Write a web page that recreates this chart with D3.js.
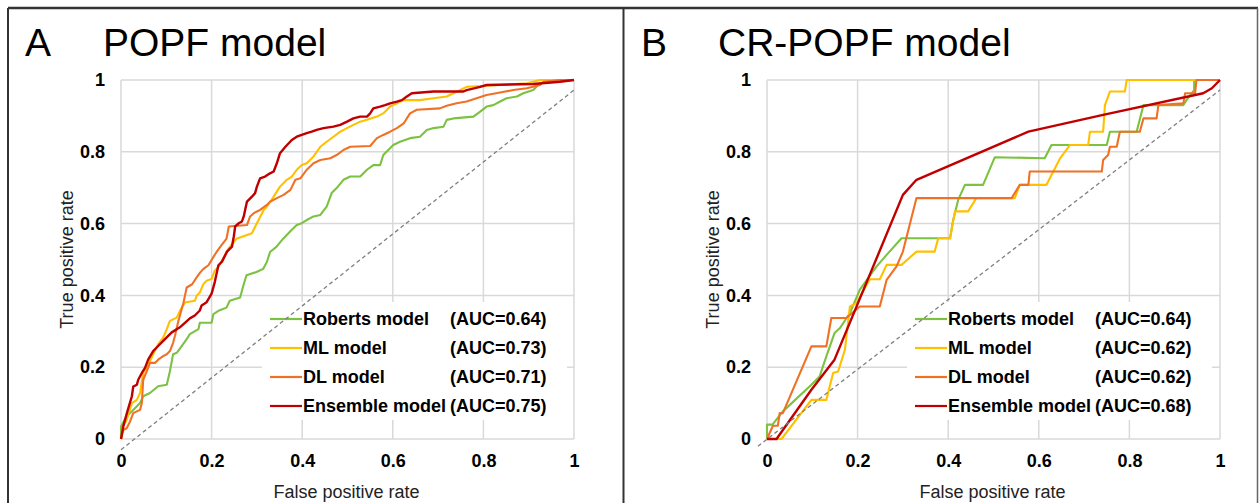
<!DOCTYPE html>
<html>
<head>
<meta charset="utf-8">
<script src="https://cdn.jsdelivr.net/npm/d3@7"></script>
<style>
  body { margin: 0; background: #fff; }
  svg { display: block; font-family: "Liberation Sans", Arial, sans-serif; }
</style>
</head>
<body>
<svg id="chart" width="1259" height="503"></svg>
<script>
// ---- data ----
var ticks = [0, 0.2, 0.4, 0.6, 0.8, 1];
var tickLabels = ["0", "0.2", "0.4", "0.6", "0.8", "1"];
var seriesNames = ["Roberts model", "ML model", "DL model", "Ensemble model"];
var seriesColors = ["#7cc242", "#ffc000", "#f07125", "#c00000"];
var aucA = ["(AUC=0.64)", "(AUC=0.73)", "(AUC=0.71)", "(AUC=0.75)"];
var aucB = ["(AUC=0.64)", "(AUC=0.62)", "(AUC=0.62)", "(AUC=0.68)"];

var robertsA = [[0,0],[0,0.035],[0.0125,0.063],[0.027,0.081],[0.042,0.100],[0.049,0.119],[0.064,0.128],[0.082,0.147],[0.101,0.151],[0.108,0.189],[0.115,0.236],[0.123,0.240],[0.134,0.259],[0.145,0.278],[0.152,0.292],[0.171,0.306],[0.174,0.324],[0.200,0.324],[0.204,0.348],[0.215,0.357],[0.233,0.366],[0.240,0.385],[0.263,0.394],[0.270,0.427],[0.277,0.456],[0.299,0.465],[0.314,0.474],[0.322,0.493],[0.329,0.521],[0.343,0.535],[0.358,0.558],[0.377,0.583],[0.388,0.596],[0.399,0.601],[0.410,0.610],[0.425,0.620],[0.440,0.624],[0.454,0.647],[0.465,0.685],[0.476,0.699],[0.491,0.722],[0.506,0.731],[0.528,0.731],[0.543,0.750],[0.557,0.763],[0.572,0.763],[0.579,0.791],[0.594,0.810],[0.601,0.819],[0.616,0.828],[0.638,0.838],[0.660,0.842],[0.675,0.861],[0.690,0.866],[0.712,0.870],[0.719,0.889],[0.734,0.893],[0.778,0.898],[0.793,0.912],[0.807,0.926],[0.822,0.930],[0.837,0.940],[0.851,0.949],[0.874,0.954],[0.888,0.963],[0.910,0.972],[0.925,0.991],[0.947,0.995],[1,1]];
var mlA = [[0,0],[0.005,0.035],[0.0125,0.053],[0.024,0.100],[0.035,0.109],[0.042,0.128],[0.049,0.184],[0.060,0.207],[0.071,0.236],[0.082,0.264],[0.093,0.282],[0.101,0.306],[0.108,0.329],[0.123,0.338],[0.130,0.357],[0.141,0.380],[0.163,0.385],[0.167,0.399],[0.174,0.408],[0.182,0.432],[0.189,0.441],[0.200,0.446],[0.207,0.469],[0.215,0.479],[0.229,0.511],[0.237,0.530],[0.255,0.558],[0.289,0.573],[0.300,0.601],[0.315,0.638],[0.322,0.647],[0.337,0.675],[0.351,0.703],[0.366,0.722],[0.377,0.731],[0.388,0.750],[0.399,0.763],[0.410,0.768],[0.425,0.787],[0.440,0.814],[0.454,0.828],[0.469,0.842],[0.484,0.856],[0.499,0.866],[0.513,0.875],[0.528,0.884],[0.543,0.889],[0.565,0.898],[0.579,0.907],[0.594,0.926],[0.609,0.935],[0.624,0.944],[0.660,0.944],[0.690,0.949],[0.719,0.954],[0.734,0.963],[0.749,0.972],[0.763,0.981],[0.837,0.986],[0.896,0.991],[0.925,1],[1,1]];
var dlA = [[0,0],[0.005,0.025],[0.0125,0.030],[0.020,0.049],[0.027,0.072],[0.042,0.081],[0.046,0.100],[0.049,0.165],[0.057,0.189],[0.064,0.212],[0.075,0.212],[0.082,0.221],[0.093,0.231],[0.101,0.236],[0.108,0.245],[0.115,0.268],[0.119,0.287],[0.126,0.325],[0.138,0.380],[0.145,0.422],[0.157,0.431],[0.167,0.450],[0.175,0.464],[0.182,0.474],[0.193,0.484],[0.204,0.507],[0.211,0.521],[0.219,0.535],[0.233,0.558],[0.238,0.592],[0.278,0.596],[0.285,0.620],[0.293,0.629],[0.307,0.638],[0.322,0.652],[0.329,0.661],[0.344,0.671],[0.359,0.680],[0.374,0.694],[0.385,0.722],[0.396,0.726],[0.410,0.750],[0.425,0.768],[0.440,0.777],[0.462,0.782],[0.476,0.791],[0.491,0.805],[0.506,0.814],[0.550,0.816],[0.565,0.838],[0.579,0.847],[0.594,0.856],[0.609,0.866],[0.624,0.879],[0.638,0.907],[0.653,0.917],[0.704,0.921],[0.719,0.928],[0.741,0.935],[0.763,0.940],[0.785,0.949],[0.807,0.958],[0.837,0.965],[0.866,0.972],[0.896,0.977],[0.925,0.986],[0.932,0.995],[0.969,1],[1,1]];
var ensA = [[0,0],[0.005,0.035],[0.013,0.072],[0.024,0.119],[0.027,0.146],[0.035,0.151],[0.038,0.165],[0.046,0.184],[0.053,0.198],[0.060,0.221],[0.071,0.245],[0.082,0.259],[0.097,0.278],[0.112,0.297],[0.130,0.311],[0.152,0.336],[0.163,0.344],[0.174,0.358],[0.178,0.372],[0.189,0.381],[0.200,0.405],[0.207,0.437],[0.215,0.484],[0.223,0.494],[0.234,0.522],[0.245,0.536],[0.249,0.564],[0.252,0.592],[0.260,0.601],[0.267,0.606],[0.271,0.620],[0.274,0.638],[0.278,0.661],[0.282,0.666],[0.289,0.675],[0.296,0.685],[0.300,0.703],[0.307,0.726],[0.318,0.731],[0.329,0.740],[0.337,0.745],[0.344,0.768],[0.351,0.796],[0.363,0.814],[0.377,0.833],[0.388,0.842],[0.399,0.847],[0.410,0.852],[0.421,0.856],[0.432,0.861],[0.447,0.866],[0.469,0.870],[0.484,0.875],[0.499,0.884],[0.513,0.893],[0.528,0.898],[0.543,0.898],[0.550,0.907],[0.557,0.921],[0.572,0.926],[0.583,0.930],[0.594,0.935],[0.609,0.940],[0.620,0.944],[0.631,0.954],[0.642,0.963],[0.690,0.968],[0.756,0.968],[0.763,0.972],[0.793,0.981],[0.807,0.986],[0.910,0.989],[0.969,0.995],[1,1]];

var robertsB = [[0,0],[0,0.040],[0.012,0.040],[0.035,0.077],[0.098,0.151],[0.116,0.174],[0.131,0.230],[0.149,0.295],[0.161,0.309],[0.183,0.351],[0.205,0.416],[0.242,0.481],[0.264,0.513],[0.297,0.559],[0.404,0.559],[0.411,0.610],[0.422,0.666],[0.437,0.708],[0.477,0.708],[0.503,0.785],[0.613,0.782],[0.628,0.819],[0.750,0.819],[0.757,0.856],[0.816,0.856],[0.831,0.930],[0.919,0.930],[0.926,0.944],[0.943,0.972],[0.943,1],[1,1]];
var mlB = [[0,0],[0.032,0],[0.098,0.109],[0.131,0.109],[0.146,0.184],[0.157,0.188],[0.172,0.249],[0.183,0.369],[0.197,0.378],[0.227,0.445],[0.249,0.445],[0.264,0.485],[0.297,0.485],[0.330,0.522],[0.370,0.522],[0.378,0.559],[0.404,0.559],[0.415,0.634],[0.444,0.634],[0.462,0.671],[0.547,0.671],[0.558,0.708],[0.617,0.708],[0.647,0.782],[0.669,0.819],[0.709,0.819],[0.713,0.856],[0.742,0.856],[0.746,0.930],[0.757,0.968],[0.790,0.968],[0.794,1],[1,1]];
var dlB = [[0,0],[0.013,0.037],[0.024,0.037],[0.028,0.072],[0.035,0.072],[0.098,0.258],[0.131,0.258],[0.142,0.337],[0.175,0.337],[0.205,0.369],[0.249,0.369],[0.264,0.443],[0.286,0.481],[0.300,0.522],[0.330,0.671],[0.540,0.671],[0.558,0.708],[0.577,0.708],[0.580,0.745],[0.739,0.745],[0.742,0.777],[0.753,0.791],[0.757,0.814],[0.772,0.814],[0.779,0.856],[0.823,0.856],[0.831,0.893],[0.860,0.893],[0.864,0.930],[0.919,0.935],[0.923,0.963],[0.945,0.963],[0.948,1],[1,1]];
var ensB = [[0,0],[0.021,0],[0.098,0.137],[0.149,0.221],[0.300,0.680],[0.330,0.722],[0.577,0.856],[0.742,0.903],[0.963,0.963],[0.982,0.977],[1,1]];

// reference diagonal (slightly offset, as in the source)
var diagA = [[0,-0.03],[1,0.972]];
var diagB = [[-0.02,-0.02],[1,0.972]];

var svg = d3.select("#chart");
var FONT_TICK = 18, FONT_LEG = 18, FONT_TITLE = 39, FONT_AXT = 18;

// frame lines
svg.append("line").attr("x1", 8).attr("y1", 8).attr("x2", 1258).attr("y2", 8)
    .attr("stroke", "#333").attr("stroke-width", 2.5);
svg.append("line").attr("x1", 8).attr("y1", 8).attr("x2", 8).attr("y2", 503)
    .attr("stroke", "#333").attr("stroke-width", 2);
svg.append("line").attr("x1", 623.5).attr("y1", 8).attr("x2", 623.5).attr("y2", 503)
    .attr("stroke", "#333").attr("stroke-width", 2);
svg.append("line").attr("x1", 1257.5).attr("y1", 8).attr("x2", 1257.5).attr("y2", 503)
    .attr("stroke", "#666").attr("stroke-width", 1.5);

function drawPanel(p) {
    var x = d3.scaleLinear().domain([0, 1]).range([p.left, p.left + 453]);
    var y = d3.scaleLinear().domain([0, 1]).range([439, 80]);
    var g = svg.append("g");

    // letter + title
    g.append("text").attr("x", p.letterX).attr("y", 56).attr("font-size", FONT_TITLE)
        .attr("fill", "#000").text(p.letter);
    g.append("text").attr("x", p.titleX).attr("y", 56).attr("font-size", FONT_TITLE)
        .attr("fill", "#000").text(p.title);

    // grid
    g.selectAll(".gx").data(ticks).enter().append("line")
        .attr("x1", function(d){return x(d);}).attr("x2", function(d){return x(d);})
        .attr("y1", y(0)).attr("y2", y(1))
        .attr("stroke", "#d9d9d9").attr("stroke-width", 1.5);
    g.selectAll(".gy").data(ticks).enter().append("line")
        .attr("x1", x(0)).attr("x2", x(1))
        .attr("y1", function(d){return y(d);}).attr("y2", function(d){return y(d);})
        .attr("stroke", "#d9d9d9").attr("stroke-width", 1.5);

    // axes (labels only)
    var ax = g.append("g").attr("transform", "translate(0," + y(0) + ")")
        .call(d3.axisBottom(x).tickValues(ticks).tickSize(0).tickPadding(15)
            .tickFormat(function(d, i){return tickLabels[i];}));
    var ay = g.append("g").attr("transform", "translate(" + x(0) + ",0)")
        .call(d3.axisLeft(y).tickValues(ticks).tickSize(0).tickPadding(16)
            .tickFormat(function(d, i){return tickLabels[i];}));
    [ax, ay].forEach(function(a){
        a.select(".domain").remove();
        a.selectAll("text").attr("font-size", FONT_TICK).attr("font-weight", "bold")
            .attr("fill", "#000").attr("font-family", null);
    });

    // axis titles
    g.append("text").attr("x", (x(0) + x(1)) / 2 - 1).attr("y", 498)
        .attr("text-anchor", "middle").attr("font-size", FONT_AXT).attr("fill", "#222")
        .text("False positive rate");
    g.append("text").attr("transform", "translate(" + (x(0) - 48) + "," + ((y(0) + y(1)) / 2) + ") rotate(-90)")
        .attr("text-anchor", "middle").attr("font-size", FONT_AXT).attr("fill", "#222")
        .text("True positive rate");

    // curves
    var line = d3.line().x(function(d){return x(d[0]);}).y(function(d){return y(d[1]);});
    p.series.forEach(function(s, i){
        g.append("path").datum(s).attr("d", line)
            .attr("fill", "none").attr("stroke", seriesColors[i])
            .attr("stroke-width", i == 3 ? 2.4 : 2.1)
            .attr("stroke-linejoin", "round");
    });

    // legend
    var lx = x(0) + p.legX;
    g.append("rect").attr("x", lx).attr("y", 302).attr("width", 305).attr("height", 118)
        .attr("fill", "#fff");
    seriesNames.forEach(function(name, i){
        var ry = 319 + i * 29;
        g.append("line").attr("x1", lx + 8).attr("x2", lx + 40).attr("y1", ry).attr("y2", ry)
            .attr("stroke", seriesColors[i]).attr("stroke-width", 2.2);
        g.append("text").attr("x", lx + 41).attr("y", ry).attr("dy", "0.35em")
            .attr("font-size", FONT_LEG).attr("font-weight", "bold").attr("fill", "#000").text(name);
        g.append("text").attr("x", lx + 188).attr("y", ry).attr("dy", "0.35em")
            .attr("font-size", FONT_LEG).attr("font-weight", "bold").attr("fill", "#000").text(p.auc[i]);
    });

    // dashed reference diagonal on top
    g.append("path").datum(p.diag).attr("d", line)
        .attr("fill", "none").attr("stroke", "#7f7f7f").attr("stroke-width", 1.3)
        .attr("stroke-dasharray", "4,3");
}

drawPanel({left: 121, letter: "A", letterX: 25, title: "POPF model", titleX: 103,
    series: [robertsA, mlA, dlA, ensA], auc: aucA, diag: diagA, legX: 141});
drawPanel({left: 767, letter: "B", letterX: 641, title: "CR-POPF model", titleX: 718,
    series: [robertsB, mlB, dlB, ensB], auc: aucB, diag: diagB, legX: 140});
</script>
</body>
</html>
